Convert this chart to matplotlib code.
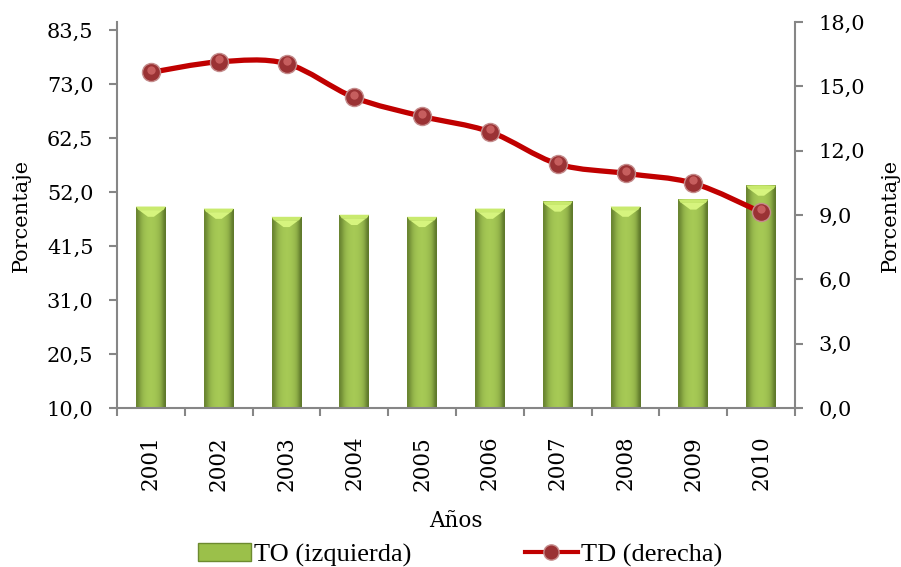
import numpy as np
import matplotlib
matplotlib.use("Agg")
import matplotlib.pyplot as plt
from matplotlib.path import Path
from matplotlib.patches import PathPatch, Patch, Polygon
from matplotlib.lines import Line2D
import matplotlib.transforms as mtransforms

years = ["2001", "2002", "2003", "2004", "2005", "2006", "2007", "2008", "2009", "2010"]
to_values = [49.2, 48.8, 47.2, 47.6, 47.2, 48.8, 50.2, 49.2, 50.6, 53.3]
td_values = [15.65, 16.14, 16.06, 14.48, 13.6, 12.88, 11.38, 10.94, 10.48, 9.13]
left_ticks = [10.0, 20.5, 31.0, 41.5, 52.0, 62.5, 73.0, 83.5]
right_ticks = [0.0, 3.0, 6.0, 9.0, 12.0, 15.0, 18.0]

SERIF = "DejaVu Serif"
plt.rcParams["font.family"] = SERIF

fig = plt.figure(figsize=(9.01, 5.67), dpi=100)
ax = fig.add_axes([117/901, 1-408/567, (795-117)/901, (408-22)/567])
ax2 = ax.twinx()

x = np.arange(len(years))
ax.set_xlim(-0.5, len(years) - 0.5)
ax.set_ylim(10.0, 85.1)
ax2.set_ylim(0.0, 18.0)

# bars with gradient
width = 0.44
bars = ax.bar(x, [v - 10.0 for v in to_values], width=width, bottom=10.0,
              color="#9bc04a", edgecolor="none", zorder=2)
grad = np.array([[0.15, 0.55, 0.8, 0.9, 0.95, 0.95, 0.9, 0.8, 0.6, 0.0]])
cmap = matplotlib.colors.LinearSegmentedColormap.from_list(
    "g", ["#5d772a", "#a6c955"])
for b in bars:
    x0, y0 = b.get_x(), b.get_y()
    w, h = b.get_width(), b.get_height()
    im = ax.imshow(grad, cmap=cmap, aspect="auto", extent=[x0, x0 + w, y0, y0 + h],
                   zorder=2.1, interpolation="bicubic")
    im.set_clip_path(b)
    # bevel top
    strip = 0.7
    ax.add_patch(Polygon([[x0, y0 + h], [x0 + w, y0 + h], [x0 + w*0.92, y0 + h - strip],
                          [x0 + w*0.08, y0 + h - strip]], closed=True,
                         facecolor="#c9ea6e", edgecolor="none", zorder=2.2))
    ax.add_patch(Polygon([[x0 + w*0.1, y0 + h - strip], [x0 + w*0.9, y0 + h - strip],
                          [x0 + w*0.6, y0 + h - 2.0], [x0 + w*0.4, y0 + h - 2.0]],
                         closed=True, facecolor="#d6f47e", edgecolor="none", zorder=2.2))

# smooth line (Catmull-Rom -> Bezier) on right axis
pts = np.column_stack([x, td_values]).astype(float)
verts = [tuple(pts[0])]
codes = [Path.MOVETO]
n = len(pts)
for i in range(n - 1):
    p0 = pts[i - 1] if i > 0 else pts[i]
    p1 = pts[i]
    p2 = pts[i + 1]
    p3 = pts[i + 2] if i + 2 < n else pts[i + 1]
    c1 = p1 + (p2 - p0) / 6.0
    c2 = p2 - (p3 - p1) / 6.0
    verts += [tuple(c1), tuple(c2), tuple(p2)]
    codes += [Path.CURVE4] * 3
ax2.add_patch(PathPatch(Path(verts, codes), facecolor="none", edgecolor="#c00000",
                        lw=3.8, zorder=3, capstyle="round", joinstyle="round"))
ax2.plot(x, td_values, linestyle="none", marker="o", markersize=13,
         markerfacecolor="#9a3234", markeredgecolor="#c58c8c", markeredgewidth=1.0, zorder=4)
off = mtransforms.ScaledTranslation(0, 2.0/72, fig.dpi_scale_trans)
ax2.plot(x, td_values, linestyle="none", marker="o", markersize=6,
         markerfacecolor="#cf6666", markeredgecolor="none", alpha=0.85, zorder=5,
         transform=ax2.transData + off)

# axes styling
gray = "#868686"
for a in (ax, ax2):
    a.spines["top"].set_visible(False)
    for s in ("left", "right", "bottom"):
        a.spines[s].set_color(gray)
        a.spines[s].set_linewidth(1.5)
ax2.spines["left"].set_visible(False)
ax.spines["right"].set_visible(False)
ax2.spines["bottom"].set_visible(False)

ax.set_yticks(left_ticks)
ax.set_yticklabels([f"{v:.1f}".replace(".", ",") for v in left_ticks], fontsize=15)
ax2.set_yticks(right_ticks)
ax2.set_yticklabels([f"{v:.1f}".replace(".", ",") for v in right_ticks], fontsize=15)
ax.tick_params(axis="y", direction="out", length=6, width=1.5, color=gray, pad=11)
ax2.tick_params(axis="y", direction="out", length=6, width=1.5, color=gray, pad=11)

ax.set_xticks(np.arange(-0.5, len(years), 1.0))
ax.set_xticklabels([])
ax.set_xticks(x, minor=True)
ax.set_xticklabels(years, minor=True, rotation=90, fontsize=15.5)
ax.tick_params(axis="x", which="major", direction="out", length=6, width=1.5, color=gray)
ax.tick_params(axis="x", which="minor", length=0, pad=20)

ax.set_ylabel("Porcentaje", fontsize=15, labelpad=11)
ax2.set_ylabel("Porcentaje", fontsize=15, labelpad=11)
ax.set_xlabel("Años", fontsize=15.5, labelpad=14)

handles = [Patch(facecolor="#9bc04a", edgecolor="#6d8a30"),
           Line2D([0], [0], color="#c00000", lw=3, marker="o", markersize=11,
                  markerfacecolor="#9a3234", markeredgecolor="#c58c8c")]
fig.legend(handles, ["TO (izquierda)", "TD (derecha)"], loc="center",
           bbox_to_anchor=(460/901, 1-555/567), ncol=2, frameon=False,
           prop={"family": "Liberation Serif", "size": 19}, columnspacing=4.3,
           handlelength=2.0, handletextpad=0.12, handleheight=0.65)

fig.savefig("out.png", dpi=100)
